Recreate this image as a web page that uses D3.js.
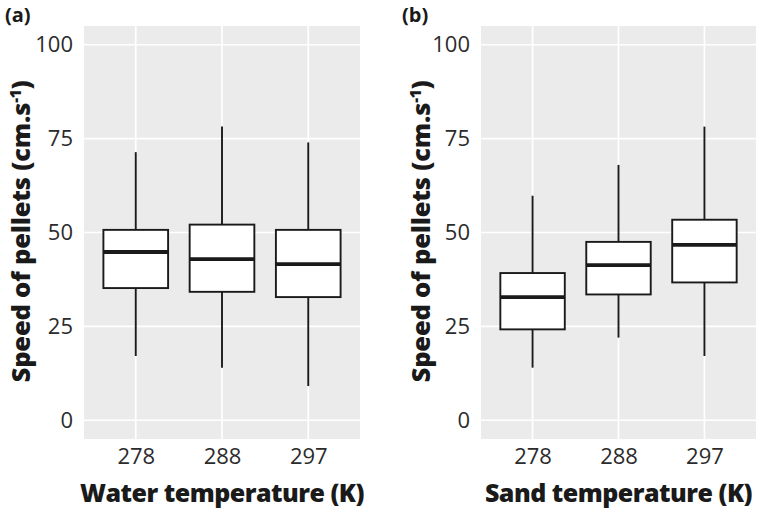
<!DOCTYPE html>
<html>
<head>
<meta charset="utf-8">
<script src="https://cdn.jsdelivr.net/npm/d3@7"></script>
<style>
  html, body { margin: 0; padding: 0; background: #fff; }
  svg { display: block; }
</style>
</head>
<body>
<svg id="chart" width="759" height="510"></svg>
<script>
// ---- data ----
const categories = ["278", "288", "297"];
const yTicks = [0, 25, 50, 75, 100];

const waterLow    = [17.1, 14.0, 9.1];
const waterQ1     = [35.2, 34.2, 32.8];
const waterMedian = [44.8, 42.9, 41.6];
const waterQ3     = [50.7, 52.1, 50.7];
const waterHigh   = [71.4, 78.2, 74.0];

const sandLow    = [14.0, 22.0, 17.1];
const sandQ1     = [24.2, 33.5, 36.7];
const sandMedian = [32.8, 41.3, 46.7];
const sandQ3     = [39.2, 47.5, 53.4];
const sandHigh   = [59.8, 68.0, 78.2];

const yTitle = "Speed of pellets (cm.s";

const svg = d3.select("#chart");
const FONT = "'Open Sans', 'Noto Sans', sans-serif";

function drawPanel(opt) {
  const { left, right, top, bottom, tag, tagX, xTitle, low, q1, med, q3, high, yTitleX } = opt;
  const g = svg.append("g");

  const x = d3.scalePoint().domain(categories).range([left, right]).padding(0.6);
  const y = d3.scaleLinear().domain([-5, 105]).range([bottom, top]);
  const bw = x.step() * 0.75;

  // background
  g.append("rect").attr("x", left).attr("y", top)
    .attr("width", right - left).attr("height", bottom - top)
    .attr("fill", "#EBEBEB");

  // grid
  g.selectAll(".hg").data(yTicks).enter().append("line")
    .attr("x1", left).attr("x2", right)
    .attr("y1", d => y(d)).attr("y2", d => y(d))
    .attr("stroke", "#fff").attr("stroke-width", 1.7);
  g.selectAll(".vg").data(categories).enter().append("line")
    .attr("x1", d => x(d)).attr("x2", d => x(d))
    .attr("y1", top).attr("y2", bottom)
    .attr("stroke", "#fff").attr("stroke-width", 1.7);

  // axes (labels only)
  const yAxis = g.append("g").attr("transform", `translate(${left},0)`)
    .call(d3.axisLeft(y).tickValues(yTicks).tickSize(0).tickPadding(11));
  yAxis.select(".domain").remove();
  yAxis.selectAll("text").attr("font-family", FONT).attr("font-size", 22).attr("fill", "#2b2b2b");

  const xAxis = g.append("g").attr("transform", `translate(0,${bottom})`)
    .call(d3.axisBottom(x).tickSize(0).tickPadding(9));
  xAxis.select(".domain").remove();
  xAxis.selectAll("text").attr("font-family", FONT).attr("font-size", 22).attr("fill", "#2b2b2b");

  // boxes
  const data = categories.map((c, i) => ({ c, low: low[i], q1: q1[i], med: med[i], q3: q3[i], high: high[i] }));
  const bx = g.selectAll(".box").data(data).enter().append("g");
  bx.append("line")
    .attr("x1", d => x(d.c)).attr("x2", d => x(d.c))
    .attr("y1", d => y(d.high)).attr("y2", d => y(d.q3))
    .attr("stroke", "#1a1a1a").attr("stroke-width", 1.9);
  bx.append("line")
    .attr("x1", d => x(d.c)).attr("x2", d => x(d.c))
    .attr("y1", d => y(d.q1)).attr("y2", d => y(d.low))
    .attr("stroke", "#1a1a1a").attr("stroke-width", 1.9);
  bx.append("rect")
    .attr("x", d => x(d.c) - bw / 2).attr("width", bw)
    .attr("y", d => y(d.q3)).attr("height", d => y(d.q1) - y(d.q3))
    .attr("fill", "#fff").attr("stroke", "#1a1a1a").attr("stroke-width", 1.9);
  bx.append("line")
    .attr("x1", d => x(d.c) - bw / 2).attr("x2", d => x(d.c) + bw / 2)
    .attr("y1", d => y(d.med)).attr("y2", d => y(d.med))
    .attr("stroke", "#1a1a1a").attr("stroke-width", 3.8);

  // x title
  g.append("text").attr("x", (left + right) / 2).attr("y", 502)
    .attr("text-anchor", "middle").attr("font-family", FONT)
    .attr("font-weight", 800).attr("font-size", 25).attr("fill", "#1a1a1a")
    .attr("letter-spacing", -0.5)
    .text(xTitle);

  // y title
  const yt = g.append("text")
    .attr("transform", `translate(${yTitleX},${(top + bottom) / 2 - 1}) rotate(-90)`)
    .attr("text-anchor", "middle").attr("font-family", FONT)
    .attr("font-weight", 800).attr("font-size", 25.5).attr("fill", "#1a1a1a")
    .attr("letter-spacing", -0.2);
  yt.append("tspan").text(yTitle);
  yt.append("tspan").attr("dy", -9).attr("font-size", 15).text("-1");
  yt.append("tspan").attr("dy", 9).text(")");

  // panel tag
  g.append("text").attr("x", tagX).attr("y", 22)
    .attr("font-family", FONT).attr("font-weight", "bold").attr("font-size", 20)
    .attr("fill", "#1a1a1a").text(tag);
}

drawPanel({
  left: 84, right: 360, top: 26, bottom: 439, tag: "(a)", tagX: 5, yTitleX: 30,
  xTitle: "Water temperature (K)",
  low: waterLow, q1: waterQ1, med: waterMedian, q3: waterQ3, high: waterHigh
});
drawPanel({
  left: 481, right: 756, top: 26, bottom: 439, tag: "(b)", tagX: 402, yTitleX: 430,
  xTitle: "Sand temperature (K)",
  low: sandLow, q1: sandQ1, med: sandMedian, q3: sandQ3, high: sandHigh
});
</script>
</body>
</html>
